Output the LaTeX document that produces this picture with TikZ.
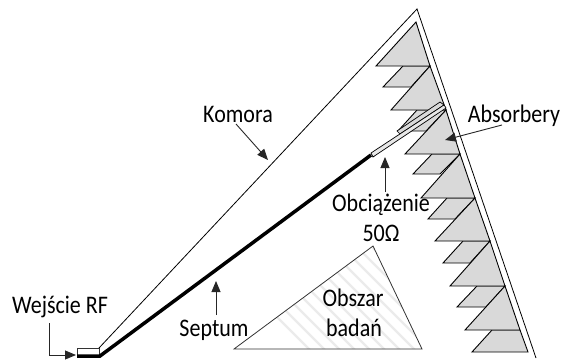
\documentclass[tikz,border=0pt]{standalone}
\usepackage{fontspec}
\setmainfont{Carlito}
\usetikzlibrary{arrows.meta}
\definecolor{absgray}{HTML}{D9D9D9}
\definecolor{stripegray}{HTML}{EBEBEB}
\definecolor{bargray}{HTML}{E8E8E8}
\newcommand{\tallfont}[1]{\scalebox{1}[1.15]{#1}}
\tikzset{
  lbl/.style={inner sep=0pt,anchor=base,font=\fontsize{22}{26}\selectfont,text=black},
  wall/.style={draw=black,line width=0.8pt,line join=miter},
  absorber/.style={draw=black,fill=absgray,line width=0.9pt,line join=miter},
  pointer/.style={draw=black!85,line width=0.9pt,-{Triangle[length=11pt,width=9pt]}},
  septumline/.style={draw=black,line width=3.5pt},
  loadbar/.style={draw=black,fill=bargray,line width=0.7pt},
  wedge/.style={draw=black,fill=absgray,line width=0.7pt},
  zone/.style={draw=black!80,line width=0.8pt},
  stripe/.style={draw=stripegray,line width=2.4pt}
}
\begin{document}
\begin{tikzpicture}[x=1pt,y=-1pt]
\useasboundingbox (0,0) rectangle (562,359);
% chamber
\coordinate (apex) at (417,9);
\coordinate (foot) at (536,358);
\coordinate (mouth) at (99,348);
\draw[wall] (mouth) -- (apex) -- (foot);
% small absorbers
\draw[absorber] (403,66) -- (383,87) -- (411,87) -- (430,66) -- cycle;
\draw[absorber] (417,110) -- (398,131) -- (426,131) -- (446,110) -- cycle;
\draw[absorber] (432,154) -- (413,174) -- (440,174) -- (460,154) -- cycle;
\draw[absorber] (447,198) -- (428,219) -- (455,219) -- (475,198) -- cycle;
\draw[absorber] (463,241) -- (443,263) -- (470,263) -- (490,241) -- cycle;
\draw[absorber] (477,286) -- (457,307) -- (486,307) -- (505,286) -- cycle;
\draw[absorber] (492,330) -- (472,352) -- (528,352) -- (520,330) -- cycle;
% large absorbers
\draw[absorber] (416,22) -- (376,66) -- (430,66) -- cycle;
\draw[absorber] (430,66) -- (391,110) -- (446,110) -- cycle;
\draw[absorber] (446,110) -- (405,154) -- (460,154) -- cycle;
\draw[absorber] (460,154) -- (421,198) -- (475,198) -- cycle;
\draw[absorber] (475,198) -- (435,241) -- (490,241) -- cycle;
\draw[absorber] (490,241) -- (450,286) -- (505,286) -- cycle;
\draw[absorber] (505,286) -- (465,330) -- (520,330) -- cycle;
% load
\draw[wedge] (397,131) -- (440,102) -- (444,105) -- (400,134) -- cycle;
\draw[loadbar] (371,153) -- (444,105) -- (446,108) -- (373,157) -- cycle;
% input box and septum
\coordinate (boxa) at (77,348);
\coordinate (boxb) at (99,357);
\draw[draw=black!80,line width=0.7pt] (boxa) rectangle (boxb);
\coordinate (septumA) at (77,356);
\coordinate (septumB) at (100,356);
\coordinate (septumC) at (371,155);
\draw[septumline,line join=miter] (septumA) -- (septumB) -- (septumC);
% test zone
\coordinate (zl) at (234,349);
\coordinate (zt) at (373,246);
\coordinate (zr) at (422,349);
\begin{scope}
\clip (zl) -- (zt) -- (zr) -- cycle;
\foreach \i in {0,...,20}{
  \draw[stripe] (200+15*\i,240) -- ++(115,115);
}
\end{scope}
\draw[zone] (zl) -- (zt) -- (zr) -- cycle;
% labels
\node[lbl] (komora) at (238,122) {\tallfont{Komora}};
\node[lbl] (absorbery) at (514,122) {\tallfont{Absorbery}};
\node[lbl] (obc) at (381,211) {\tallfont{Obciążenie}};
\node[lbl] (ohm) at (381,241) {\tallfont{50Ω}};
\node[lbl] (obszar) at (353,306) {\tallfont{Obszar}};
\node[lbl] (badan) at (354,336) {\tallfont{badań}};
\node[lbl] (septum) at (214,336) {\tallfont{Septum}};
\node[lbl] (wejscie) at (60,313) {\tallfont{Wejście RF}};
% pointers
\coordinate (komoraTip) at (268,160);
\coordinate (komoraTail) at (236,124);
\coordinate (absTip) at (445,140);
\coordinate (absTail) at (502,125);
\coordinate (obcTip) at (385,157);
\coordinate (obcTail) at (385,192);
\coordinate (sepTip) at (216,281);
\coordinate (sepTail) at (216,315);
\coordinate (rfTail) at (49,323);
\coordinate (rfTip) at (76,355);
\draw[pointer] (komoraTail) -- (komoraTip);
\draw[pointer] (absTail) -- (absTip);
\draw[pointer] (obcTail) -- (obcTip);
\draw[pointer] (sepTail) -- (sepTip);
\draw[pointer] (rfTail) |- (rfTip);
\end{tikzpicture}
\end{document}
